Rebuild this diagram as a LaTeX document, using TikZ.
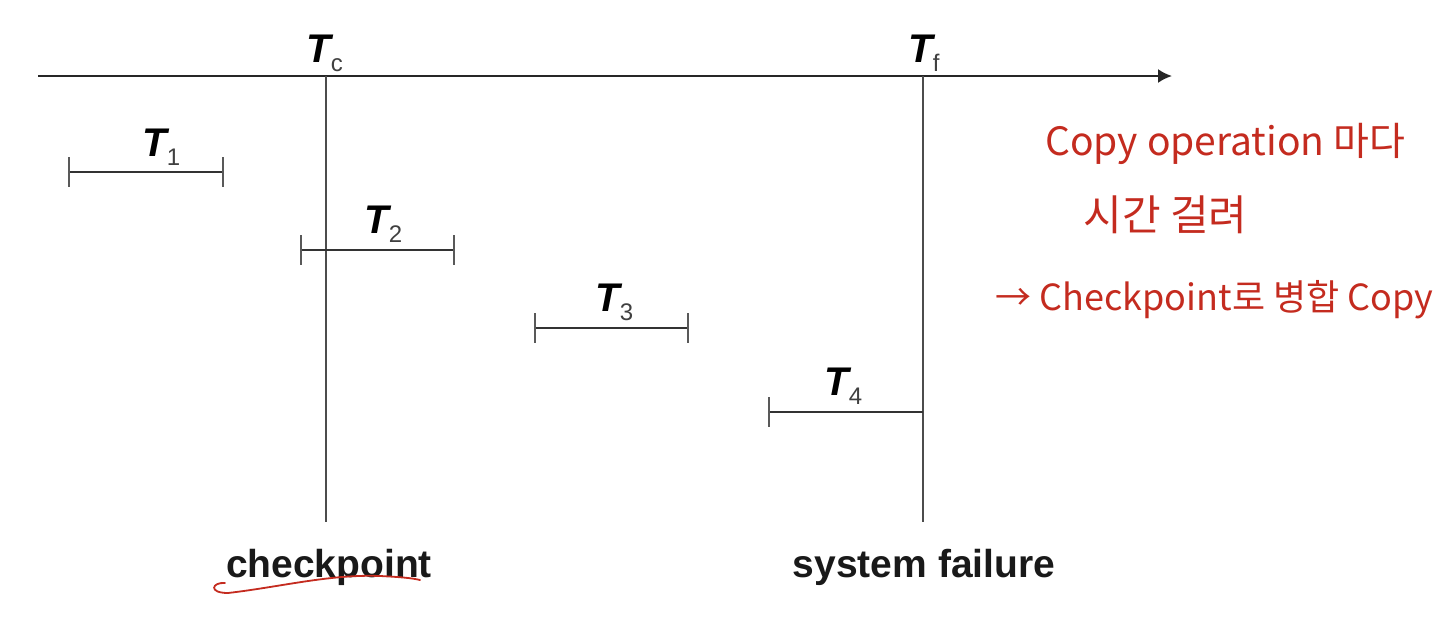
\documentclass[tikz,border=0pt]{standalone}
\usepackage{fontspec}
\setmainfont{Liberation Sans}
\newfontfamily\krfont{Noto Sans CJK KR}
\usetikzlibrary{arrows.meta}
\definecolor{notered}{HTML}{C42B1F}
\newcommand\tsubx[1]{\raisebox{-4.5pt}{\fontsize{12}{12}\selectfont\upshape\mdseries\color{black!75}#1}}
\begin{document}
\begin{tikzpicture}[x=0.5pt,y=-0.5pt,
  axisline/.style={line width=1pt, draw=black!85},
  vline/.style={line width=1pt, draw=black!70},
  bar/.style={line width=1pt, draw=black!80},
  tickline/.style={line width=1pt, draw=black!65},
  tlabel/.style={anchor=base west, inner sep=0pt, font=\fontsize{20}{20}\selectfont\bfseries\itshape},
  caption/.style={anchor=base, inner sep=0pt, font=\fontsize{19.5}{20}\selectfont\bfseries, text=black!90},
  note/.style={anchor=base west, inner sep=0pt, text=notered, font=\krfont\fontsize{18}{20}\selectfont},
  squiggle/.style={draw=notered, line width=0.9pt, line cap=round}
]
\useasboundingbox (0,0) rectangle (1442,622);
% time axis
\coordinate (ax0) at (38,76);
\coordinate (ax1) at (1172,76);
\draw[axisline,-{Latex[length=7pt,width=7pt]}] (ax0) -- (ax1);
% checkpoint and failure lines
\coordinate (tctop) at (326,76);
\coordinate (tcbot) at (326,522);
\coordinate (tftop) at (923,76);
\coordinate (tfbot) at (923,522);
\draw[vline] (tctop) -- (tcbot);
\draw[vline] (tftop) -- (tfbot);
\node[tlabel] (tclab) at (306,62) {T\tsubx{c}};
\node[tlabel] (tflab) at (908,62) {T\tsubx{f}};
% transactions
\coordinate (t1a) at (69,172); \coordinate (t1b) at (223,172);
\draw[bar] (t1a) -- (t1b);
\draw[tickline] (69,157) -- (69,187);
\draw[tickline] (223,157) -- (223,187);
\node[tlabel] (t1lab) at (142,156) {T\tsubx{1}};

\coordinate (t2a) at (301,250); \coordinate (t2b) at (454,250);
\draw[bar] (t2a) -- (t2b);
\draw[tickline] (301,235) -- (301,265);
\draw[tickline] (454,235) -- (454,265);
\node[tlabel] (t2lab) at (364,233) {T\tsubx{2}};

\coordinate (t3a) at (535,328); \coordinate (t3b) at (688,328);
\draw[bar] (t3a) -- (t3b);
\draw[tickline] (535,313) -- (535,343);
\draw[tickline] (688,313) -- (688,343);
\node[tlabel] (t3lab) at (595,311) {T\tsubx{3}};

\coordinate (t4a) at (769,412); \coordinate (t4b) at (923,412);
\draw[bar] (t4a) -- (t4b);
\draw[tickline] (769,397) -- (769,427);
\node[tlabel] (t4lab) at (824,395) {T\tsubx{4}};
% captions
\node[caption] (cpcap) at (329,577) {checkpoint};
\node[caption] (sfcap) at (924,577) {system failure};
% handwritten notes
\draw[squiggle] (225,583) .. controls (212,582) and (208,593) .. (228,593)
  .. controls (280,587) and (330,574) .. (380,576)
  .. controls (400,577) and (412,578) .. (420,580);
\node[note, font=\krfont\fontsize{19.5}{22}\selectfont] (note1) at (1045,155) {Copy operation 마다};
\node[note, font=\krfont\fontsize{21}{24}\selectfont] (note2) at (1083,230) {시간 걸려};
\node[note] (note3) at (995,310) {→ Checkpoint로 병합 Copy};
\end{tikzpicture}
\end{document}
